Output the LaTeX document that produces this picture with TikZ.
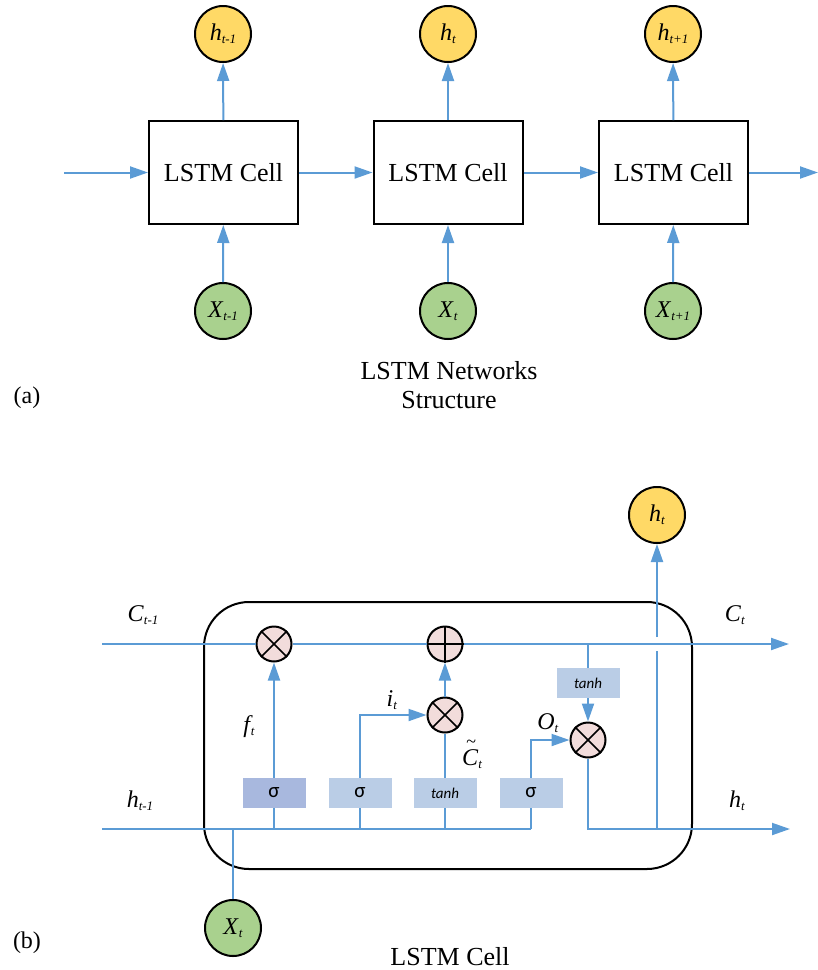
\documentclass[tikz,border=0pt]{standalone}
\usepackage{fontspec}
\setmainfont{Liberation Serif}
\newfontfamily\gatefont{Carlito}
\usetikzlibrary{arrows.meta}
\definecolor{lblue}{RGB}{91,155,213}
\definecolor{hyel}{RGB}{255,217,102}
\definecolor{xgrn}{RGB}{169,209,142}
\definecolor{opink}{RGB}{242,220,219}
\definecolor{gateA}{RGB}{168,184,222}
\definecolor{gateB}{RGB}{186,205,230}
\newcommand{\vsub}[2]{\textit{#1}\raisebox{-0.28ex}{\fontsize{13}{13}\selectfont\textit{#2}}}
\begin{document}
\begin{tikzpicture}[x=1pt,y=-1pt,
  cellbox/.style={draw, line width=2pt, minimum width=149pt, minimum height=103pt, fill=white, font=\fontsize{26}{30}\selectfont},
  hcirc/.style={circle, draw, line width=2pt, fill=hyel, minimum size=56pt, inner sep=0pt, font=\fontsize{24}{26}\selectfont},
  xcirc/.style={circle, draw, line width=2pt, fill=xgrn, minimum size=56pt, inner sep=0pt, font=\fontsize{24}{26}\selectfont},
  wire/.style={draw=lblue, line width=2pt},
  flow/.style={draw=lblue, line width=2pt, -{Triangle[length=18pt,width=12pt]}},
  opnode/.style={circle, draw, line width=2pt, fill=opink, minimum size=35pt, inner sep=0pt},
  gatebox/.style={minimum width=63pt, minimum height=30pt, inner sep=0pt, fill=gateB, font=\gatefont\fontsize{21}{21}\selectfont},
  lbl/.style={font=\fontsize{24}{26}\selectfont, inner sep=0pt},
  captext/.style={font=\fontsize{26}{30}\selectfont, inner sep=0pt}
]
\useasboundingbox (0,0) rectangle (818,970);

% ---------------- (a) ----------------
\node[cellbox] (c1) at (223.5,172.5) {LSTM Cell};
\node[cellbox] (c2) at (448,172.5) {LSTM Cell};
\node[cellbox] (c3) at (673.5,172.5) {LSTM Cell};
\node[hcirc] (h1) at (223,34) {\vsub{h}{t-1}};
\node[hcirc] (h2) at (448,34) {\vsub{h}{t}};
\node[hcirc] (h3) at (673,34) {\vsub{h}{t+1}};
\node[xcirc] (x1) at (223,311) {\vsub{X}{t-1}};
\node[xcirc] (x2) at (448,311) {\vsub{X}{t}};
\node[xcirc] (x3) at (673,311) {\vsub{X}{t+1}};
\coordinate (ain) at (64,172.5);
\coordinate (aout) at (818,172.5);
\draw[flow] (ain) -- (c1);
\draw[flow] (c1) -- (c2);
\draw[flow] (c2) -- (c3);
\draw[flow] (c3) -- (aout);
\foreach \i in {1,2,3}{
  \draw[flow] (c\i) -- (h\i);
  \draw[flow] (x\i) -- (c\i);
}
\node[captext, align=center] (capA) at (449,385) {LSTM Networks\\[-1pt]Structure};
\node[font=\fontsize{24}{26}\selectfont, inner sep=0pt] (labA) at (27,398) {(a)};

% ---------------- (b) ----------------
\node[draw, line width=2pt, rounded corners=45pt, minimum width=488pt, minimum height=267pt] (cell) at (448,735.5) {};

\coordinate (cin) at (102,644);
\coordinate (cout) at (789,644);
\coordinate (ctap) at (588,644);
\coordinate (hin) at (102,829);
\coordinate (hout) at (790,829);
\coordinate (hj1) at (274,829);
\coordinate (hj2) at (360,829);
\coordinate (hj3) at (445,829);
\coordinate (hj4) at (531,829);
\coordinate (xj) at (233,829);
\coordinate (hup) at (657,829);
\coordinate (hopB) at (657,651);
\coordinate (hopT) at (657,637);

\node[gatebox, fill=gateA] (g1) at (274,793) {σ};
\node[gatebox] (g2) at (360,793) {σ};
\node[gatebox, font=\gatefont\itshape\fontsize{15}{15}\selectfont] (g3) at (445,793) {tanh};
\node[gatebox] (g4) at (531,793) {σ};
\node[gatebox, font=\gatefont\itshape\fontsize{15}{15}\selectfont] (tc) at (588,683) {tanh};

\node[opnode] (fx) at (274,644) {};
\node[opnode] (pl) at (445,644) {};
\node[opnode] (ix) at (445,715) {};
\node[opnode] (ox) at (588,740) {};
\foreach \n in {fx,ix,ox}{
  \draw[line width=1.6pt] (\n.north east) -- (\n.south west);
  \draw[line width=1.6pt] (\n.north west) -- (\n.south east);
}
\draw[line width=1.6pt] (pl.north) -- (pl.south);
\draw[line width=1.6pt] (pl.west) -- (pl.east);

\node[hcirc] (ht) at (657,515) {\vsub{h}{t}};
\node[xcirc] (xt) at (233,928) {\vsub{X}{t}};

% cell state
\draw[wire] (cin) -- (fx);
\draw[wire] (fx) -- (pl);
\draw[flow] (pl) -- (cout);
\draw[wire] (ctap) -- (tc);
\draw[flow] (tc) -- (ox);

% hidden input line
\draw[wire] (hin) -- (hj4);
\draw[wire] (hj1) -- (g1);
\draw[wire] (hj2) -- (g2);
\draw[wire] (hj3) -- (g3);
\draw[wire] (hj4) -- (g4);
\draw[wire] (xt) -- (xj);

\draw[flow] (g1) -- (fx);
\draw[flow] (g2.north) |- (ix.west);
\draw[wire] (g3) -- (ix);
\draw[flow] (ix) -- (pl);
\draw[flow] (g4.north) |- (ox.west);
\draw[flow] (ox) |- (hout);
\draw[wire] (hup) -- (hopB);
\draw[flow] (hopT) -- (ht);

% labels
\node[lbl] (lC0) at (143,615) {\vsub{C}{t-1}};
\node[lbl] (lC1) at (735,615) {\vsub{C}{t}};
\node[lbl] (lf) at (249,727) {\textit{f}\kern-2pt\raisebox{-0.28ex}{\fontsize{13}{13}\selectfont\textit{t}}};
\node[lbl] (li) at (392,700) {\vsub{i}{t}};
\node[lbl, anchor=base west] (lct) at (462,765) {\textit{\rlap{\kern4pt\raisebox{0.72em}{\fontsize{18}{18}\selectfont\textasciitilde}}C}\raisebox{-0.28ex}{\fontsize{13}{13}\selectfont\textit{t}}};
\node[lbl] (lo) at (548,723) {\vsub{O}{t}};
\node[lbl] (lh0) at (140,801) {\vsub{h}{t-1}};
\node[lbl] (lh1) at (737,801) {\vsub{h}{t}};
\node[captext] (capB) at (450,957) {LSTM Cell};
\node[font=\fontsize{24}{26}\selectfont, inner sep=0pt] (labB) at (27,943) {(b)};
\end{tikzpicture}
\end{document}
